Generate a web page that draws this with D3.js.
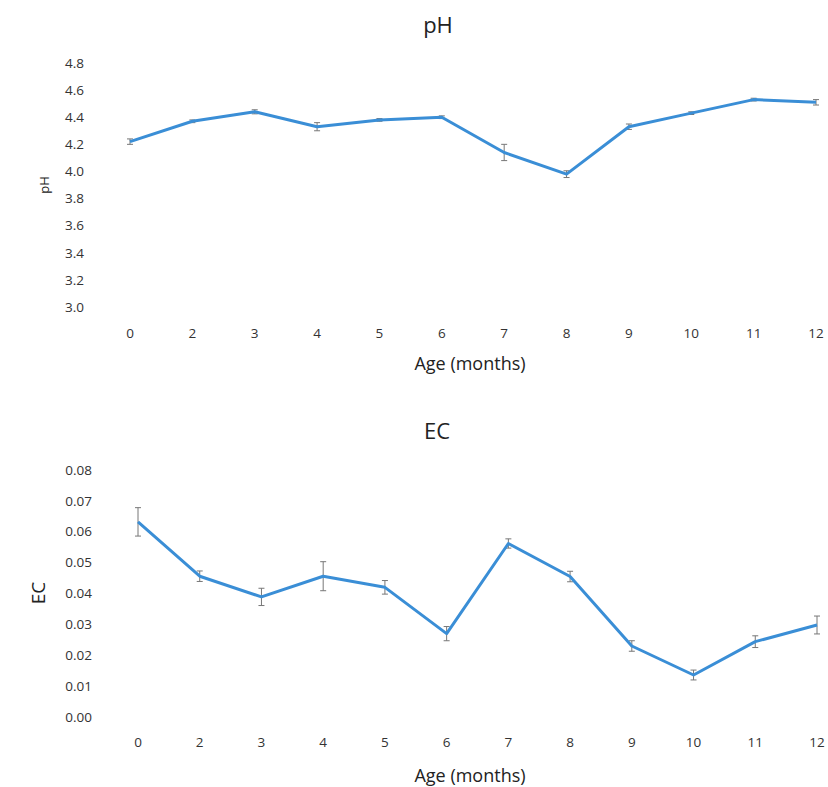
<!DOCTYPE html>
<html>
<head>
<meta charset="utf-8">
<script src="https://d3js.org/d3.v7.min.js"></script>
<style>
  body { margin: 0; background: #fff; }
  text { font-family: "Open Sans", "Noto Sans", sans-serif; fill: #333; }
  .tick-label { font-size: 13.5px; }
  .ax-title { font-size: 18px; fill: #222; }
  .chart-title { font-size: 22px; fill: #222; }
</style>
</head>
<body>
<script>
// data
const ages = ['0', '2', '3', '4', '5', '6', '7', '8', '9', '10', '11', '12'];
const phMean = [4.22, 4.37, 4.44, 4.33, 4.38, 4.40, 4.14, 3.98, 4.33, 4.43, 4.53, 4.51];
const phErr = [0.02, 0.01, 0.015, 0.03, 0.01, 0.01, 0.06, 0.025, 0.02, 0.01, 0.01, 0.02];
const ecMean = [0.0632, 0.0456, 0.0389, 0.0456, 0.0420, 0.0270, 0.0562, 0.0455, 0.0230, 0.0136, 0.0244, 0.0298];
const ecErr = [0.0046, 0.0017, 0.0028, 0.0047, 0.0022, 0.0023, 0.0015, 0.0017, 0.0017, 0.0016, 0.0019, 0.0029];
const phTicks = [3.0, 3.2, 3.4, 3.6, 3.8, 4.0, 4.2, 4.4, 4.6, 4.8];
const ecTicks = [0, 0.01, 0.02, 0.03, 0.04, 0.05, 0.06, 0.07, 0.08];

const W = 828, H = 787;
const lineColor = '#3a8ed6';

const svg = d3.select('body').append('svg')
    .attr('width', W)
    .attr('height', H);

function panel(opt) {
    const g = svg.append('g');

    const x = d3.scalePoint()
        .domain(ages)
        .range(opt.xRange);

    const y = d3.scaleLinear()
        .domain(opt.yDomain)
        .range(opt.yRange);

    // title
    g.append('text')
        .attr('class', 'chart-title')
        .attr('x', opt.titleX)
        .attr('y', opt.titleY)
        .attr('text-anchor', 'middle')
        .text(opt.title);

    // y tick labels
    g.selectAll('.ytick')
        .data(opt.ticks)
        .join('text')
        .attr('class', 'tick-label')
        .attr('x', opt.yLabelX)
        .attr('y', d => y(d))
        .attr('dy', '0.35em')
        .attr('text-anchor', 'end')
        .text(d => d3.format(opt.fmt)(d));

    // x tick labels
    g.selectAll('.xtick')
        .data(ages)
        .join('text')
        .attr('class', 'tick-label')
        .attr('x', d => x(d))
        .attr('y', opt.xLabelY)
        .attr('dy', '0.35em')
        .attr('text-anchor', 'middle')
        .text(d => d);

    // axis titles
    g.append('text')
        .attr('class', 'ax-title')
        .attr('x', 470)
        .attr('y', opt.xTitleY)
        .attr('text-anchor', 'middle')
        .text('Age (months)');

    g.append('text')
        .attr('class', 'ax-title')
        .attr('transform', `translate(${opt.yTitleX},${opt.yTitleY}) rotate(-90)`)
        .attr('text-anchor', 'middle')
        .style('font-size', opt.yTitleSize)
        .text(opt.yTitle);

    const pts = ages.map((a, i) => ({ a, v: opt.mean[i], e: opt.err[i] }));

    // error bars
    const eb = g.selectAll('.err')
        .data(pts)
        .join('g')
        .attr('stroke', '#777')
        .attr('stroke-width', 1);
    eb.append('line')
        .attr('x1', d => x(d.a)).attr('x2', d => x(d.a))
        .attr('y1', d => y(d.v - d.e)).attr('y2', d => y(d.v + d.e));
    eb.append('line')
        .attr('x1', d => x(d.a) - 3).attr('x2', d => x(d.a) + 3)
        .attr('y1', d => y(d.v - d.e)).attr('y2', d => y(d.v - d.e));
    eb.append('line')
        .attr('x1', d => x(d.a) - 3).attr('x2', d => x(d.a) + 3)
        .attr('y1', d => y(d.v + d.e)).attr('y2', d => y(d.v + d.e));

    // line
    const line = d3.line()
        .x(d => x(d.a))
        .y(d => y(d.v));

    g.append('path')
        .datum(pts)
        .attr('fill', 'none')
        .attr('stroke', lineColor)
        .attr('stroke-width', 3)
        .attr('stroke-linejoin', 'round')
        .attr('d', line);
}

panel({
    title: 'pH', titleX: 438, titleY: 33,
    xRange: [130, 816], yDomain: [3.0, 4.8], yRange: [307, 63],
    ticks: phTicks, fmt: '.1f', yLabelX: 84,
    xLabelY: 333, xTitleY: 370,
    yTitle: 'pH', yTitleX: 49, yTitleY: 185, yTitleSize: '13px',
    mean: phMean, err: phErr
});

panel({
    title: 'EC', titleX: 437, titleY: 439,
    xRange: [138, 817], yDomain: [0, 0.08], yRange: [717, 470],
    ticks: ecTicks, fmt: '.2f', yLabelX: 92,
    xLabelY: 742, xTitleY: 782,
    yTitle: 'EC', yTitleX: 45, yTitleY: 593, yTitleSize: '19px',
    mean: ecMean, err: ecErr
});
</script>
</body>
</html>
